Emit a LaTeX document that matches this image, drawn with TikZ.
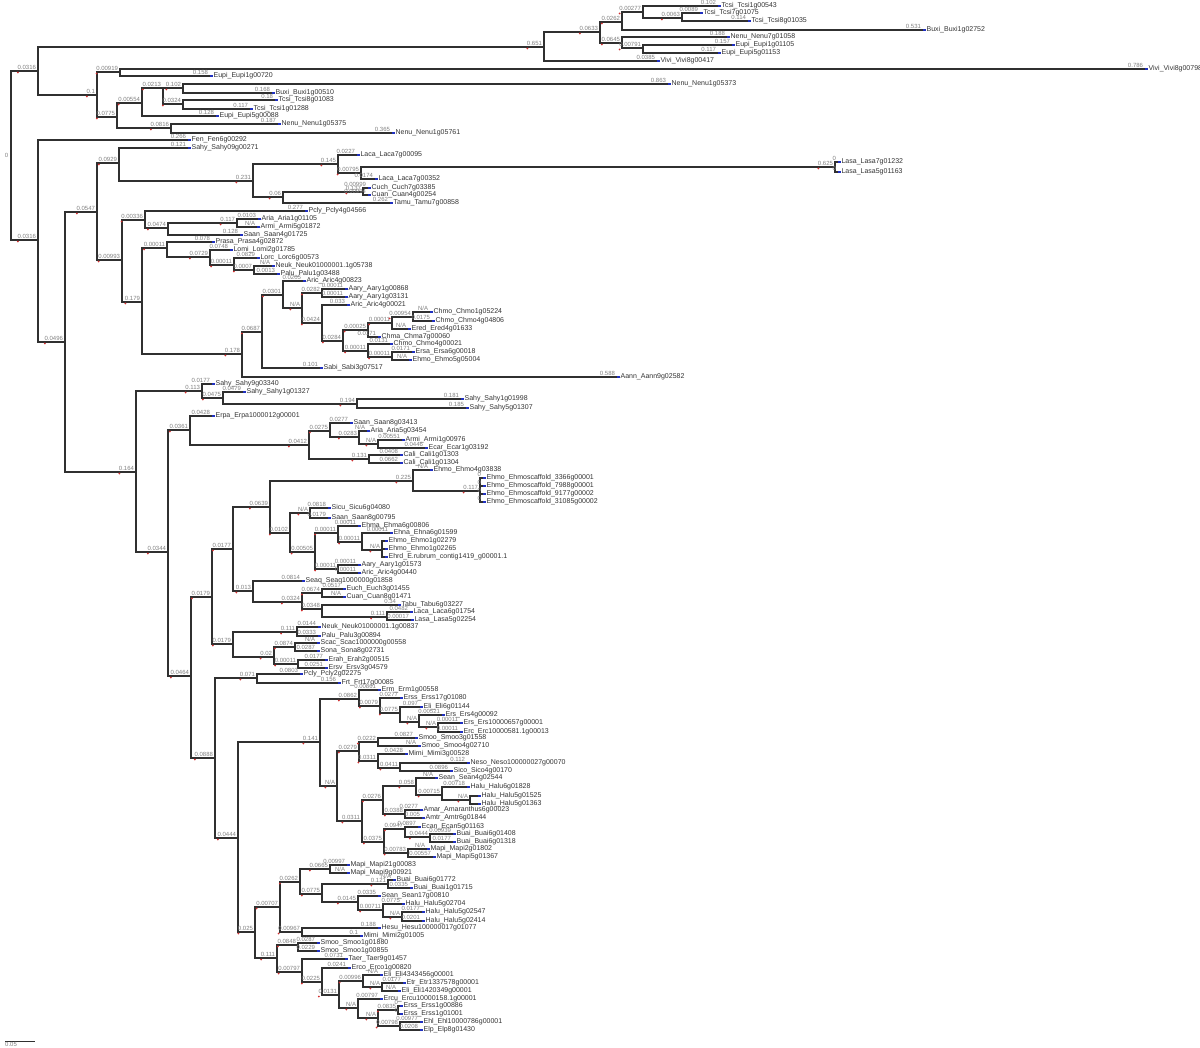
\documentclass[tikz,border=0pt]{standalone}
\usepackage{fontspec}
\setmainfont{Liberation Sans}
\usepackage{tikz}
\definecolor{ramogrigio}{HTML}{303030}
\definecolor{etichetta}{HTML}{808080}
\definecolor{rosso}{HTML}{D03030}
\definecolor{blu}{HTML}{2030C0}
\tikzset{
  ramo/.style={draw=ramogrigio, line width=0.6pt},
  lun/.style={anchor=south east, inner sep=0.3pt, xshift=-0.4pt, text=etichetta, font=\fontsize{3}{3}\selectfont},
  foglia/.style={anchor=west, inner xsep=1.6pt, inner ysep=0.3pt, text=black!80, font=\fontsize{3.5}{4}\selectfont}
}
% nodo interno: padre, nome, x, y, lunghezza
\newcommand{\nodo}[5]{%
  \coordinate (#2) at (#3,#4);
  \draw[ramo] (#1) |- node[lun, pos=1] (#2l) {#5} (#2);
  \fill[rosso] (#2l.south west) ++(1.5,1.5) circle[radius=0.5pt];}
% foglia: padre, nome, x, y, lunghezza, testo
\newcommand{\foglia}[6]{%
  \node[foglia] (#2) at (#3,#4) {#6};
  \draw[ramo] (#1) |- node[lun, pos=1] (#2l) {#5} (#2.west);
  \fill[blu] (#2.west) ++(0,-1) rectangle ++(2.5,2);}

\begin{document}
\begin{tikzpicture}[x=0.5pt, y=-0.5pt]
    \useasboundingbox (0,0) rectangle (1200,1048);
    % Radice
    \coordinate (r) at (11,155);
    \node[lun, anchor=east] (r0) at (10,155) {0};
    \fill[rosso] (r) circle[radius=0.5pt];
    \nodo{r}{a}{38}{71}{0.0316}
    \nodo{r}{b}{38}{240}{0.0316}
    % Clade superiore
    \nodo{a}{n1}{544}{47}{0.651}
    \nodo{n1}{n2}{600}{32}{0.0633}
    \nodo{n2}{n3}{622}{22}{0.0262}
    \nodo{n3}{n5}{643}{12}{0.00277}
    \foglia{n5}{f1}{718}{6}{0.102}{Tcsi\_Tcsi1g00543}
    \nodo{n5}{n6}{682}{18}{0.0063}
    \foglia{n6}{f2}{700}{13}{0.0089}{Tcsi\_Tcsi7g01075}
    \foglia{n6}{f3}{748}{21}{0.114}{Tcsi\_Tcsi8g01035}
    \foglia{n3}{f4}{923}{30}{0.531}{Buxi\_Buxi1g02752}
    \nodo{n2}{n4}{622}{43}{0.0645}
    \foglia{n4}{f5}{727}{37}{0.188}{Nenu\_Nenu7g01058}
    \nodo{n4}{n7}{643}{48}{0.00791}
    \foglia{n7}{f6}{732}{45}{0.157}{Eupi\_Eupi1g01105}
    \foglia{n7}{f7}{718}{53}{0.117}{Eupi\_Eupi5g01153}
    \foglia{n1}{f8}{657}{61}{0.0385}{Vivi\_Vivi8g00417}
    \nodo{a}{n8}{97}{95}{0.1}
    \nodo{n8}{n9}{120}{72}{0.00919}
    \foglia{n9}{f9}{1145}{69}{0.786}{Vivi\_Vivi8g00798}
    \foglia{n9}{f10}{210}{76}{0.158}{Eupi\_Eupi1g00720}
    \nodo{n8}{n10}{117}{117}{0.0775}
    \nodo{n10}{n11}{142}{103}{0.00554}
    \nodo{n11}{n12}{163}{88}{0.0213}
    \nodo{n12}{n13}{183}{88}{0.102}
    \foglia{n13}{f11}{668}{84}{0.863}{Nenu\_Nenu1g05373}
    \foglia{n13}{f12}{272}{93}{0.168}{Buxi\_Buxi1g00510}
    \nodo{n12}{n14}{183}{104}{0.0324}
    \foglia{n14}{f13}{275}{100}{0.18}{Tcsi\_Tcsi8g01083}
    \foglia{n14}{f14}{250}{109}{0.117}{Tcsi\_Tcsi1g01288}
    \foglia{n11}{f15}{216}{116}{0.128}{Eupi\_Eupi5g00088}
    \nodo{n10}{n15}{171}{128}{0.0816}
    \foglia{n15}{f16}{278}{124}{0.187}{Nenu\_Nenu1g05375}
    \foglia{n15}{f17}{392}{133}{0.365}{Nenu\_Nenu1g05761}
    % Clade inferiore
    \foglia{b}{f18}{188}{140}{0.266}{Fen\_Fen6g00292}
    \nodo{b}{n17}{65}{342}{0.0496}
    \nodo{n17}{n18}{97}{212}{0.0547}
    \nodo{n18}{n19}{119}{163}{0.0929}
    \foglia{n19}{f19}{188}{148}{0.121}{Sahy\_Sahy09g00271}
    \nodo{n19}{n20}{253}{181}{0.231}
    \nodo{n20}{n21}{338}{164}{0.145}
    \foglia{n21}{f20}{357}{155}{0.0227}{Laca\_Laca7g00095}
    \nodo{n21}{n22}{361}{173}{0.00795}
    \nodo{n22}{n23}{835}{167}{0.625}
    \foglia{n23}{f21}{838}{162}{0}{Lasa\_Lasa7g01232}
    \foglia{n23}{f22}{838}{172}{0}{Lasa\_Lasa5g01163}
    \foglia{n22}{f23}{375}{179}{0.0174}{Laca\_Laca7g00352}
    \nodo{n20}{n24}{283}{197}{0.06}
    \nodo{n24}{n25}{363}{192}{0.137}
    \foglia{n25}{f24}{368}{188}{0.00999}{Cuch\_Cuch7g03385}
    \foglia{n25}{f25}{368}{195}{0.00994}{Cuan\_Cuan4g00254}
    \foglia{n24}{f26}{390}{203}{0.262}{Tamu\_Tamu7g00858}
    \nodo{n18}{n26}{122}{260}{0.00993}
    \nodo{n26}{n27}{145}{220}{0.00336}
    \foglia{n27}{f27}{305}{211}{0.277}{Pcly\_Pcly4g04566}
    \nodo{n27}{n28}{168}{228}{0.0474}
    \nodo{n28}{n29}{237}{223}{0.117}
    \foglia{n29}{f28}{258}{219}{0.0103}{Aria\_Aria1g01105}
    \foglia{n29}{f29}{257}{227}{N/A}{Armi\_Armi5g01872}
    \foglia{n28}{f30}{240}{235}{0.128}{Saan\_Saan4g01725}
    \nodo{n26}{n34}{142}{302}{0.179}
    \nodo{n34}{n30}{167}{248}{0.00011}
    \foglia{n30}{f31}{212}{242}{0.078}{Prasa\_Prasa4g02872}
    \nodo{n30}{n31}{210}{257}{0.0729}
    \foglia{n31}{f32}{230}{250}{0.0748}{Lomi\_Lomi2g01785}
    \nodo{n31}{n32}{234}{265}{0.00011}
    \foglia{n32}{f33}{257}{258}{0.0829}{Lorc\_Lorc6g00573}
    \nodo{n32}{n33}{254}{270}{0.0007}
    \foglia{n33}{f34}{272}{266}{N/A}{Neuk\_Neuk01000001.1g05738}
    \foglia{n33}{f35}{277}{274}{0.0013}{Palu\_Palu1g03488}
    \nodo{n34}{n35}{242}{354}{0.178}
    \nodo{n35}{n36}{262}{332}{0.0687}
    \nodo{n36}{n37}{283}{295}{0.0301}
    \foglia{n37}{f36}{303}{281}{0.0205}{Aric\_Aric4g00823}
    \nodo{n37}{n38}{302}{308}{N/A}
    \nodo{n38}{n39}{322}{293}{0.0282}
    \foglia{n39}{f37}{345}{289}{0.00011}{Aary\_Aary1g00868}
    \foglia{n39}{f38}{345}{297}{0.00011}{Aary\_Aary1g03131}
    \nodo{n38}{n40}{322}{323}{0.0424}
    \foglia{n40}{f39}{347}{305}{0.033}{Aric\_Aric4g00021}
    \nodo{n40}{n41}{343}{341}{0.0284}
    \nodo{n41}{n42}{368}{330}{0.00025}
    \nodo{n42}{n43}{392}{323}{0.00011}
    \nodo{n43}{n44}{413}{317}{0.00954}
    \foglia{n44}{f40}{430}{312}{N/A}{Chmo\_Chmo1g05224}
    \foglia{n44}{f41}{432}{321}{0.0175}{Chmo\_Chmo4g04806}
    \foglia{n43}{f42}{408}{329}{N/A}{Ered\_Ered4g01633}
    \foglia{n42}{f43}{378}{337}{0.0171}{Chma\_Chma7g00060}
    \nodo{n41}{n45}{368}{351}{0.00011}
    \foglia{n45}{f44}{390}{344}{0.0131}{Chmo\_Chmo4g00021}
    \nodo{n45}{n46}{392}{357}{0.00011}
    \foglia{n46}{f45}{412}{352}{0.0171}{Ersa\_Ersa6g00018}
    \foglia{n46}{f46}{409}{360}{N/A}{Ehmo\_Ehmo5g05004}
    \foglia{n36}{f47}{320}{368}{0.101}{Sabi\_Sabi3g07517}
    \foglia{n35}{f48}{617}{377}{0.588}{Aann\_Aann9g02582}
    \nodo{n17}{n47}{136}{472}{0.164}
    \nodo{n47}{n48}{202}{391}{0.113}
    \foglia{n48}{f49}{212}{384}{0.0177}{Sahy\_Sahy9g03340}
    \nodo{n48}{n49}{223}{398}{0.0475}
    \foglia{n49}{f50}{243}{392}{0.0479}{Sahy\_Sahy1g01327}
    \nodo{n49}{n50}{357}{404}{0.194}
    \foglia{n50}{f51}{461}{399}{0.181}{Sahy\_Sahy1g01998}
    \foglia{n50}{f52}{466}{408}{0.185}{Sahy\_Sahy5g01307}
    \nodo{n47}{n52}{168}{552}{0.0344}
    \nodo{n52}{n51}{190}{430}{0.0361}
    \foglia{n51}{f53}{212}{416}{0.0428}{Erpa\_Erpa1000012g00001}
    \nodo{n51}{n54}{309}{445}{0.0412}
    \nodo{n54}{n55}{330}{431}{0.0275}
    \foglia{n55}{f54}{350}{423}{0.0277}{Saan\_Saan8g03413}
    \nodo{n55}{n56}{359}{437}{0.0283}
    \foglia{n56}{f55}{367}{431}{N/A}{Aria\_Aria5g03454}
    \nodo{n56}{n57}{378}{444}{N/A}
    \foglia{n57}{f56}{402}{440}{0.00551}{Armi\_Armi1g00976}
    \foglia{n57}{f57}{425}{448}{0.0446}{Ecar\_Ecar1g03192}
    \nodo{n54}{n58}{369}{459}{0.131}
    \foglia{n58}{f58}{400}{455}{0.0408}{Cali\_Cali1g01303}
    \foglia{n58}{f59}{400}{463}{0.0662}{Cali\_Cali1g01304}
    \nodo{n52}{n53}{191}{676}{0.0464}
    \nodo{n53}{n61}{212}{597}{0.0179}
    \nodo{n61}{n63}{233}{549}{0.0177}
    \nodo{n63}{n64}{270}{507}{0.0639}
    \nodo{n64}{n65}{413}{481}{0.225}
    \foglia{n65}{f60}{430}{470}{N/A}{Ehmo\_Ehmo4g03838}
    \nodo{n65}{n66}{480}{491}{0.117}
    \foglia{n66}{f61}{483}{478}{0}{Ehmo\_Ehmoscaffold\_3366g00001}
    \foglia{n66}{f62}{483}{486}{0}{Ehmo\_Ehmoscaffold\_7988g00001}
    \foglia{n66}{f63}{483}{494}{0}{Ehmo\_Ehmoscaffold\_9177g00002}
    \foglia{n66}{f64}{483}{502}{0}{Ehmo\_Ehmoscaffold\_31085g00002}
    \nodo{n64}{n67}{290}{533}{0.0102}
    \nodo{n67}{n68}{310}{513}{N/A}
    \foglia{n68}{f65}{328}{508}{0.0818}{Sicu\_Sicu6g04080}
    \foglia{n68}{f66}{328}{518}{0.0179}{Saan\_Saan8g00795}
    \nodo{n67}{n69}{315}{552}{0.00505}
    \nodo{n69}{n70}{338}{533}{0.00011}
    \foglia{n70}{f67}{358}{526}{0.00011}{Ehma\_Ehma6g00806}
    \nodo{n70}{n71}{362}{542}{0.00011}
    \foglia{n71}{f68}{390}{533}{0.00011}{Ehna\_Ehna6g01599}
    \nodo{n71}{n72}{382}{550}{N/A}
    \foglia{n72}{f69}{385}{541}{}{Ehmo\_Ehmo1g02279}
    \foglia{n72}{f70}{385}{549}{}{Ehmo\_Ehmo1g02265}
    \foglia{n72}{f71}{385}{557}{}{Ehrd\_E.rubrum\_contig1419\_g00001.1}
    \nodo{n69}{n73}{338}{569}{0.00011}
    \foglia{n73}{f72}{358}{565}{0.00011}{Aary\_Aary1g01573}
    \foglia{n73}{f73}{358}{573}{0.00011}{Aric\_Aric4g00440}
    \nodo{n63}{n74}{253}{591}{0.013}
    \foglia{n74}{f74}{302}{581}{0.0814}{Seaq\_Seaq1000000g01858}
    \nodo{n74}{n75}{302}{602}{0.0324}
    \nodo{n75}{n76}{322}{593}{0.0674}
    \foglia{n76}{f75}{343}{589}{0.0517}{Euch\_Euch3g01455}
    \foglia{n76}{f76}{343}{597}{N/A}{Cuan\_Cuan8g01471}
    \nodo{n75}{n77}{322}{609}{0.0348}
    \foglia{n77}{f77}{398}{605}{0.34}{Tabu\_Tabu6g03227}
    \nodo{n77}{n78}{387}{617}{0.111}
    \foglia{n78}{f78}{410}{612}{0.0482}{Laca\_Laca6g01754}
    \foglia{n78}{f79}{411}{620}{0.00017}{Lasa\_Lasa5g02254}
    \nodo{n61}{n79}{233}{644}{0.0179}
    \nodo{n79}{n80}{297}{632}{0.111}
    \foglia{n80}{f80}{318}{627}{0.0144}{Neuk\_Neuk01000001.1g00837}
    \foglia{n80}{f81}{318}{636}{0.0333}{Palu\_Palu3g00894}
    \nodo{n79}{n81}{274}{657}{0.02}
    \nodo{n81}{n82}{295}{647}{0.0874}
    \foglia{n82}{f82}{317}{643}{N/A}{Scac\_Scac1000000g00558}
    \foglia{n82}{f83}{317}{651}{0.0287}{Sona\_Sona8g02731}
    \nodo{n81}{n83}{298}{664}{0.00011}
    \foglia{n83}{f84}{325}{660}{0.0177}{Erah\_Erah2g00515}
    \foglia{n83}{f85}{325}{668}{0.0251}{Ersv\_Ersv3g04579}
    \nodo{n53}{n62}{215}{758}{0.0888}
    \nodo{n62}{n84}{257}{678}{0.071}
    \foglia{n84}{f86}{300}{674}{0.0803}{Pcly\_Pcly2g02275}
    \foglia{n84}{f87}{338}{683}{0.156}{Frt\_Frt17g00085}
    \nodo{n62}{n85}{238}{838}{0.0444}
    \nodo{n85}{n86}{320}{742}{0.141}
    \nodo{n86}{n88}{359}{699}{0.0862}
    \foglia{n88}{f88}{378}{690}{0.00861}{Erm\_Erm1g00558}
    \nodo{n88}{n91}{380}{706}{0.0079}
    \foglia{n91}{f89}{400}{698}{0.0277}{Erss\_Erss17g01080}
    \nodo{n91}{n92}{400}{713}{0.0775}
    \foglia{n92}{f90}{420}{707}{0.097}{Eli\_Eli6g01144}
    \nodo{n92}{n93}{419}{722}{N/A}
    \foglia{n93}{f91}{442}{715}{0.00521}{Ers\_Ers4g00092}
    \nodo{n93}{n94}{438}{727}{N/A}
    \foglia{n94}{f92}{460}{723}{0.00011}{Ers\_Ers10000657g00001}
    \foglia{n94}{f93}{460}{732}{0.00011}{Erc\_Erc10000581.1g00013}
    \nodo{n86}{n89}{337}{786}{N/A}
    \nodo{n89}{n90}{359}{751}{0.0279}
    \nodo{n90}{n96}{378}{742}{0.0222}
    \foglia{n96}{f94}{415}{738}{0.0827}{Smoo\_Smoo3g01558}
    \foglia{n96}{f95}{418}{746}{N/A}{Smoo\_Smoo4g02710}
    \nodo{n90}{n97}{378}{761}{0.0311}
    \foglia{n97}{f96}{405}{754}{0.0428}{Mimi\_Mimi3g00528}
    \nodo{n97}{n98}{400}{768}{0.0411}
    \foglia{n98}{f97}{467}{763}{0.112}{Neso\_Neso100000027g00070}
    \foglia{n98}{f98}{450}{771}{0.0896}{Sico\_Sico4g00170}
    \nodo{n89}{n95}{362}{821}{0.0311}
    \nodo{n95}{n99}{383}{800}{0.0276}
    \nodo{n99}{n100}{416}{786}{0.058}
    \foglia{n100}{f99}{435}{778}{N/A}{Sean\_Sean4g02544}
    \nodo{n100}{n101}{442}{795}{0.00715}
    \foglia{n101}{f100}{467}{787}{0.00718}{Halu\_Halu6g01828}
    \nodo{n101}{n102}{470}{800}{N/A}
    \foglia{n102}{f101}{478}{796}{}{Halu\_Halu5g01525}
    \foglia{n102}{f102}{478}{804}{}{Halu\_Halu5g01363}
    \nodo{n99}{n103}{405}{814}{0.0388}
    \foglia{n103}{f103}{420}{810}{0.0277}{Amar\_Amaranthus6g00023}
    \foglia{n103}{f104}{422}{818}{0.005}{Amtr\_Amtr6g01844}
    \nodo{n95}{n104}{384}{842}{0.0375}
    \nodo{n104}{n105}{405}{829}{0.0947}
    \foglia{n105}{f105}{418}{827}{0.0897}{Ecan\_Ecan5g01163}
    \nodo{n105}{n106}{430}{837}{0.0444}
    \foglia{n106}{f106}{453}{834}{0.00939}{Buai\_Buai6g01408}
    \foglia{n106}{f107}{453}{842}{0.0177}{Buai\_Buai6g01318}
    \nodo{n104}{n107}{408}{853}{0.00783}
    \foglia{n107}{f108}{427}{849}{N/A}{Mapi\_Mapi2g01802}
    \foglia{n107}{f109}{433}{857}{0.00557}{Mapi\_Mapi5g01367}
    \nodo{n85}{n87}{255}{932}{0.025}
    \nodo{n87}{n108}{280}{907}{0.00707}
    \nodo{n108}{n110}{300}{882}{0.0262}
    \nodo{n110}{n112}{330}{869}{0.0665}
    \foglia{n112}{f110}{347}{865}{0.00997}{Mapi\_Mapi21g00083}
    \foglia{n112}{f111}{347}{873}{N/A}{Mapi\_Mapi9g00921}
    \nodo{n110}{n113}{322}{894}{0.0775}
    \nodo{n113}{n114}{388}{884}{0.121}
    \foglia{n114}{f112}{393}{880}{N/A}{Buai\_Buai6g01772}
    \foglia{n114}{f113}{410}{888}{0.0335}{Buai\_Buai1g01715}
    \nodo{n113}{n115}{358}{902}{0.0145}
    \foglia{n115}{f114}{378}{896}{0.0335}{Sean\_Sean17g00810}
    \nodo{n115}{n116}{383}{910}{0.00711}
    \foglia{n116}{f115}{402}{904}{0.0775}{Halu\_Halu5g02704}
    \nodo{n116}{n117}{402}{917}{N/A}
    \foglia{n117}{f116}{422}{912}{0.0177}{Halu\_Halu5g02547}
    \foglia{n117}{f117}{422}{921}{0.0201}{Halu\_Halu5g02414}
    \nodo{n108}{n111}{302}{932}{0.00967}
    \foglia{n111}{f118}{378}{928}{0.188}{Hesu\_Hesu100000017g01077}
    \foglia{n111}{f119}{360}{936}{0.1}{Mimi\_Mimi2g01005}
    \nodo{n87}{n109}{277}{958}{0.111}
    \nodo{n109}{n118}{298}{945}{0.0848}
    \foglia{n118}{f120}{317}{943}{0.0287}{Smoo\_Smoo1g01880}
    \foglia{n118}{f121}{317}{951}{0.0229}{Smoo\_Smoo1g00855}
    \nodo{n109}{n119}{302}{972}{0.00797}
    \foglia{n119}{f122}{345}{959}{0.0731}{Taer\_Taer9g01457}
    \nodo{n119}{n120}{322}{982}{0.0225}
    \foglia{n120}{f123}{348}{968}{0.0241}{Erco\_Erco1g00820}
    \nodo{n120}{n121}{339}{995}{0.0131}
    \nodo{n121}{n122}{363}{981}{0.00996}
    \foglia{n122}{f124}{380}{975}{N/A}{Eli\_Eli4343456g00001}
    \nodo{n122}{n123}{382}{987}{N/A}
    \foglia{n123}{f125}{403}{983}{0.0177}{Etr\_Etr1337578g00001}
    \foglia{n123}{f126}{398}{991}{N/A}{Eli\_Eli1420349g00001}
    \nodo{n121}{n124}{358}{1008}{N/A}
    \foglia{n124}{f127}{380}{999}{0.00797}{Ercu\_Ercu10000158.1g00001}
    \nodo{n124}{n125}{378}{1018}{N/A}
    \nodo{n125}{n126}{398}{1010}{0.0835}
    \foglia{n126}{f128}{400}{1006}{0}{Erss\_Erss1g00886}
    \foglia{n126}{f129}{400}{1014}{0}{Erss\_Erss1g01001}
    \nodo{n125}{n127}{400}{1026}{0.00798}
    \foglia{n127}{f130}{420}{1022}{0.00977}{Ehl\_Ehl10000786g00001}
    \foglia{n127}{f131}{420}{1030}{0.0208}{Elp\_Elp8g01430}
    % Scala
    \coordinate (s0) at (5,1041);
    \coordinate (s1) at (35,1041);
    \draw[ramo, line width=0.4pt] (s0) -- (s1);
    \node[lun, anchor=north west] (sl) at (s0) {0.05};
  \end{tikzpicture}
\end{document}
